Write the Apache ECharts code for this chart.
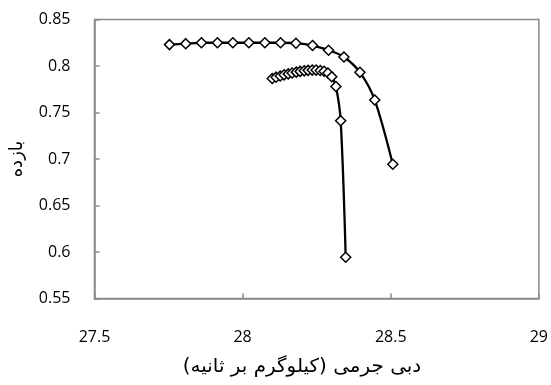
<!DOCTYPE html>
<html>
<head>
<meta charset="utf-8">
<script src="https://cdn.jsdelivr.net/npm/echarts@6/dist/echarts.min.js"></script>
<style>
html,body{margin:0;padding:0;background:#fff;}
#chart{width:551px;height:385px;}
</style>
</head>
<body>
<div id="chart"></div>
<script>
// Upper curve
var upperX = [27.753, 27.808, 27.861, 27.915, 27.967, 28.021, 28.075, 28.128, 28.180, 28.236, 28.290, 28.342, 28.396, 28.446, 28.507];
var upperY = [0.823, 0.824, 0.825, 0.825, 0.825, 0.825, 0.825, 0.825, 0.8245, 0.822, 0.817, 0.8097, 0.7932, 0.7634, 0.6943];
// Lower curve
var lowerX = [28.100, 28.113, 28.127, 28.140, 28.154, 28.167, 28.181, 28.194, 28.208, 28.221, 28.235, 28.248, 28.262, 28.275, 28.288, 28.301, 28.315, 28.331, 28.348];
var lowerY = [0.7866, 0.788, 0.7893, 0.7905, 0.7915, 0.7925, 0.7934, 0.7942, 0.7948, 0.7953, 0.7956, 0.7956, 0.7952, 0.7943, 0.7925, 0.7885, 0.778, 0.7412, 0.5943];

var xTitle = 'دبی جرمی (کیلوگرم بر ثانیه)';
var yTitle = 'بازده';

function pairs(xs, ys){ return xs.map(function(x,i){ return [x, ys[i]]; }); }

var chart = echarts.init(document.getElementById('chart'));
var gray = '#898989';
var labelFont = 'Open Sans';
var seriesStyle = function(data){
  return {
    type: 'line',
    data: data,
    smooth: 0.3,
    symbol: 'diamond',
    symbolSize: 10,
    showSymbol: true,
    lineStyle: {color: '#000', width: 2.3},
    itemStyle: {color: '#fff', borderColor: '#000', borderWidth: 1.5},
    animation: false
  };
};
chart.setOption({
  animation: false,
  backgroundColor: '#fff',
  grid: {left: 94.5, right: 10, top: 19.5, bottom: 86.5, show: true, borderColor: gray, borderWidth: 1.5, backgroundColor: 'transparent'},
  xAxis: {
    type: 'value', min: 27.5, max: 29, interval: 0.5,
    axisLine: {show: true, lineStyle: {color: gray, width: 1.5}},
    axisTick: {show: true, inside: true, length: 5, lineStyle: {color: gray, width: 1.5}},
    splitLine: {show: false},
    axisLabel: {margin: 31, color: '#000', fontSize: 16, fontFamily: labelFont}
  },
  yAxis: {
    type: 'value', min: 0.55, max: 0.85, interval: 0.05,
    axisLine: {show: true, lineStyle: {color: gray, width: 1.5}},
    axisTick: {show: true, inside: true, length: 5, lineStyle: {color: gray, width: 1.5}},
    splitLine: {show: false},
    axisLabel: {margin: 24, color: '#000', fontSize: 16, fontFamily: labelFont},
    name: yTitle, nameLocation: 'middle', nameRotate: 90, nameGap: 68,
    nameTextStyle: {color: '#000', fontSize: 18, fontFamily: 'DejaVu Sans'}
  },
  graphic: [{
    type: 'text', x: 302, y: 367, scaleX: 1.05,
    style: {text: xTitle, fill: '#000', font: '19px "DejaVu Sans"', align: 'center', verticalAlign: 'middle'}
  }],
  series: [seriesStyle(pairs(upperX, upperY)), seriesStyle(pairs(lowerX, lowerY))]
});
</script>
</body>
</html>
